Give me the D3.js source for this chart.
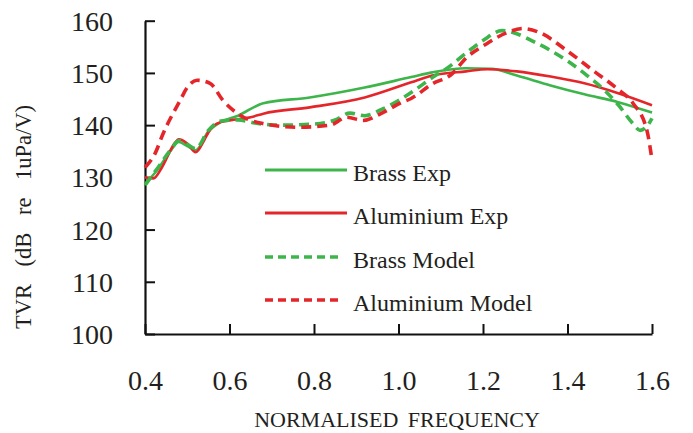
<!DOCTYPE html>
<html>
<head>
<meta charset="utf-8">
<script src="https://cdn.jsdelivr.net/npm/d3@7"></script>
<style>
  body { margin: 0; background: #fff; }
  svg text { font-family: "Liberation Serif", "Times New Roman", serif; fill: #231f20; }
</style>
</head>
<body>
<div id="chart"></div>
<script>
// values
const brassExpF = [0.40, 0.43, 0.46, 0.48, 0.50, 0.52, 0.55, 0.58, 0.62, 0.68, 0.79, 0.92, 1.03, 1.08, 1.16, 1.22, 1.28, 1.36, 1.44, 1.52, 1.60];
const brassExpV = [128.7, 131.5, 135.0, 136.8, 136.0, 135.2, 138.8, 140.6, 141.8, 144.2, 145.3, 147.2, 149.2, 150.1, 150.9, 150.8, 149.5, 147.6, 145.9, 144.4, 142.4];

const aluExpF = [0.40, 0.42, 0.44, 0.47, 0.48, 0.50, 0.52, 0.54, 0.55, 0.57, 0.60, 0.65, 0.68, 0.79, 0.92, 1.03, 1.08, 1.16, 1.21, 1.28, 1.36, 1.44, 1.52, 1.60];
const aluExpV = [130.0, 129.8, 131.9, 136.5, 137.3, 136.5, 134.8, 137.1, 138.6, 140.3, 140.9, 141.5, 142.2, 143.4, 145.3, 148.2, 149.5, 150.3, 150.7, 150.3, 149.3, 148.0, 146.1, 143.8];

const brassModF = [0.40, 0.43, 0.46, 0.48, 0.50, 0.52, 0.55, 0.58, 0.62, 0.66, 0.72, 0.80, 0.85, 0.885, 0.92, 0.96, 1.00, 1.04, 1.08, 1.12, 1.16, 1.20, 1.245, 1.28, 1.32, 1.36, 1.40, 1.44, 1.49, 1.52, 1.555, 1.572, 1.59, 1.60];
const brassModV = [128.5, 131.8, 135.2, 137.0, 136.3, 135.5, 139.0, 140.8, 141.0, 140.4, 140.0, 140.2, 141.0, 142.3, 141.8, 143.0, 144.7, 146.8, 149.1, 151.2, 153.8, 156.2, 158.1, 157.5, 156.0, 154.3, 152.3, 149.9, 146.5, 143.9, 140.3, 139.0, 140.0, 141.3];

const aluModF = [0.40, 0.424, 0.443, 0.483, 0.50, 0.523, 0.554, 0.585, 0.625, 0.679, 0.76, 0.838, 0.878, 0.916, 0.963, 1.004, 1.03, 1.082, 1.122, 1.162, 1.209, 1.256, 1.295, 1.335, 1.398, 1.46, 1.517, 1.555, 1.588, 1.60];
const aluModV = [131.9, 134.6, 138.4, 144.7, 147.2, 148.6, 148.0, 144.7, 141.9, 140.3, 139.6, 140.0, 141.5, 140.9, 142.4, 144.2, 145.1, 148.0, 149.5, 153.0, 155.6, 157.7, 158.5, 157.7, 154.3, 150.5, 147.0, 144.2, 139.0, 133.3];

const xTicks = [0.4, 0.6, 0.8, 1.0, 1.2, 1.4, 1.6];
const yTicks = [100, 110, 120, 130, 140, 150, 160];
const seriesNames = ["Brass Exp", "Aluminium Exp", "Brass Model", "Aluminium Model"];

const W = 693, H = 433;
const green = "#3db54a", red = "#e4262b";

const series = [
  {name: seriesNames[0], f: brassExpF, v: brassExpV, color: green, dash: null, w: 2.6},
  {name: seriesNames[1], f: aluExpF, v: aluExpV, color: red, dash: null, w: 2.6},
  {name: seriesNames[2], f: brassModF, v: brassModV, color: green, dash: "10,6", w: 3.6},
  {name: seriesNames[3], f: aluModF, v: aluModV, color: red, dash: "10,6", w: 3.6}
];

const svg = d3.select("#chart").append("svg")
  .attr("width", W).attr("height", H);

const x = d3.scaleLinear().domain([0.4, 1.6]).range([145, 652]);
const y = d3.scaleLinear().domain([100, 160]).range([334, 20.7]);

// axes, ticks pointing inward
const xAxis = svg.append("g")
  .attr("transform", "translate(0,334)")
  .call(d3.axisBottom(x).tickValues(xTicks).tickSizeInner(-10).tickSizeOuter(0)
    .tickFormat(d3.format(".1f")));
xAxis.select(".domain").attr("stroke", "#111").attr("stroke-width", 2.2);
xAxis.selectAll(".tick line").attr("stroke", "#111").attr("stroke-width", 2);
xAxis.selectAll(".tick text").attr("font-size", 28).attr("y", 56).attr("dy", 0);

const yAxis = svg.append("g")
  .attr("transform", "translate(145,0)")
  .call(d3.axisLeft(y).tickValues(yTicks).tickSizeInner(-10).tickSizeOuter(0));
yAxis.select(".domain").attr("stroke", "#111").attr("stroke-width", 2.2);
yAxis.selectAll(".tick line").attr("stroke", "#111").attr("stroke-width", 2);
yAxis.selectAll(".tick text").attr("font-size", 28).attr("x", -32).attr("dy", "0.34em");
svg.selectAll(".tick text").attr("font-family", "Liberation Serif").attr("fill", "#231f20");

// axis titles
svg.append("text")
  .attr("x", 397).attr("y", 427)
  .attr("text-anchor", "middle")
  .attr("font-size", 22)
  .attr("word-spacing", 4)
  .text("NORMALISED FREQUENCY");

svg.append("text")
  .attr("transform", "translate(31,217) rotate(-90)")
  .attr("text-anchor", "middle")
  .attr("font-size", 22.5)
  .attr("word-spacing", 12)
  .text("TVR (dB re 1uPa/V)");

// curves
const line = d3.line()
  .x(d => x(d[0]))
  .y(d => y(d[1]))
  .curve(d3.curveMonotoneX);

svg.append("g").selectAll("path")
  .data(series)
  .join("path")
  .attr("d", s => line(s.f.map((f, i) => [f, s.v[i]])))
  .attr("fill", "none")
  .attr("stroke", s => s.color)
  .attr("stroke-width", s => s.w)
  .attr("stroke-dasharray", s => s.dash)
  .attr("stroke-linejoin", "round");

// legend
const legendRows = d3.scaleOrdinal().domain(seriesNames).range([170, 213, 257, 300]);
const legend = svg.append("g").selectAll("g")
  .data(series)
  .join("g")
  .attr("transform", s => "translate(0," + legendRows(s.name) + ")");

legend.append("line")
  .attr("x1", 265).attr("x2", s => s.dash ? 343 : 347)
  .attr("stroke", s => s.color)
  .attr("stroke-width", s => s.dash ? 3.6 : 3)
  .attr("stroke-dasharray", s => s.dash ? "8,5" : null);

legend.append("text")
  .attr("x", 353).attr("y", 11)
  .attr("font-size", 24)
  .text(s => s.name);
</script>
</body>
</html>
